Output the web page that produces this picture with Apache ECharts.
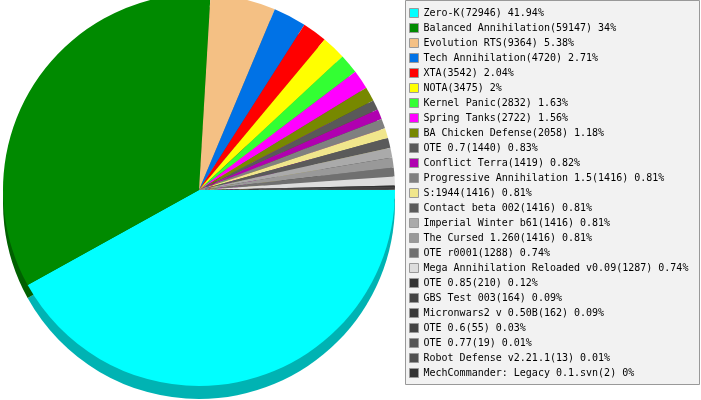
<!DOCTYPE html>
<html>
<head>
<meta charset="utf-8">
<script src="https://cdn.jsdelivr.net/npm/echarts@6.0.0/dist/echarts.min.js"></script>
<style>
  html, body { margin: 0; padding: 0; background: #fff; }
  #chart { width: 701px; height: 400px; }
</style>
</head>
<body>
<div id="chart"></div>
<script>
const games = [
  'Zero-K', 'Balanced Annihilation', 'Evolution RTS', 'Tech Annihilation', 'XTA',
  'NOTA', 'Kernel Panic', 'Spring Tanks', 'BA Chicken Defense', 'OTE 0.7',
  'Conflict Terra', 'Progressive Annihilation 1.5', 'S:1944', 'Contact beta 002',
  'Imperial Winter b61', 'The Cursed 1.260', 'OTE r0001', 'Mega Annihilation Reloaded v0.09',
  'OTE 0.85', 'GBS Test 003', 'Micronwars2 v 0.50B', 'OTE 0.6', 'OTE 0.77',
  'Robot Defense v2.21.1', 'MechCommander: Legacy 0.1.svn'
];
const counts = [
  72946, 59147, 9364, 4720, 3542,
  3475, 2832, 2722, 2058, 1440,
  1419, 1416, 1416, 1416,
  1416, 1416, 1288, 1287,
  210, 164, 162, 55, 19,
  13, 2
];
const colors = [
  '#00ffff', '#008a00', '#f4c084', '#0072e6', '#ff0000',
  '#ffff00', '#33ff33', '#ff00ff', '#778800', '#595959',
  '#b000b0', '#808080', '#f0e68c', '#5a5a5a',
  '#aaaaaa', '#999999', '#707070', '#dddddd',
  '#333333', '#444444', '#3a3a3a', '#444444', '#555555',
  '#505050', '#333333'
];

const total = counts.reduce((a, b) => a + b, 0);

// darker shade for the pie's side wall
function darken(hex, f) {
  const n = parseInt(hex.slice(1), 16);
  const r = Math.round(((n >> 16) & 255) * f);
  const g = Math.round(((n >> 8) & 255) * f);
  const b = Math.round((n & 255) * f);
  return 'rgb(' + r + ',' + g + ',' + b + ')';
}

const topData = games.map((name, i) => ({
  name: name, value: counts[i], itemStyle: { color: colors[i] }
}));
const sideData = games.map((name, i) => ({
  name: name, value: counts[i], itemStyle: { color: darken(colors[i], 0.7) }
}));

const chart = echarts.init(document.getElementById('chart'));

const pieBase = {
  type: 'pie',
  radius: [0, 196],
  startAngle: 0,
  clockwise: true,
  label: { show: false },
  labelLine: { show: false },
  emphasis: { disabled: true },
  itemStyle: { borderWidth: 0 },
  animation: false,
  silent: true
};

chart.setOption({
  animation: false,
  backgroundColor: '#ffffff',
  graphic: [{
    type: 'rect',
    z: 0,
    shape: { x: 405.5, y: 0.5, width: 294, height: 384 },
    style: { fill: '#f2f2f2', stroke: '#999999', lineWidth: 1 }
  }],
  legend: {
    orient: 'vertical',
    left: 409,
    top: 8,
    padding: 0,
    icon: 'rect',
    itemWidth: 9,
    itemHeight: 9,
    itemGap: 5,
    selectedMode: false,
    itemStyle: { borderColor: '#999999', borderWidth: 1 },
    textStyle: {
      fontFamily: 'DejaVu Sans Mono',
      fontSize: 10,
      lineHeight: 10,
      color: '#000000'
    },
    data: games,
    formatter: function (name) {
      const i = games.indexOf(name);
      const pct = parseFloat((counts[i] / total * 100).toFixed(2));
      return name + '(' + counts[i] + ') ' + pct + '%';
    }
  },
  series: [
    Object.assign({}, pieBase, {
      name: 'top',
      z: 3,
      center: [199, 190],
      data: topData
    }),
    Object.assign({}, pieBase, {
      name: 'side',
      z: 2,
      center: [199, 203],
      data: sideData
    })
  ]
});
</script>
</body>
</html>
